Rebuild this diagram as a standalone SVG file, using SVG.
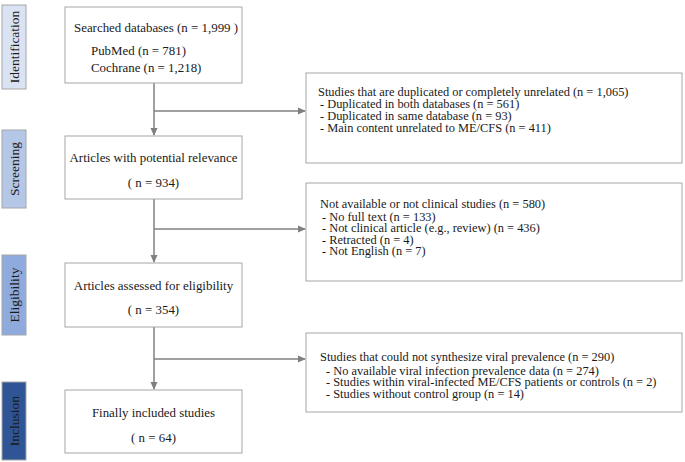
<svg xmlns="http://www.w3.org/2000/svg" width="685" height="462" viewBox="0 0 685 462">
<defs>
<style>
text{font-family:"Liberation Serif","Times New Roman",serif;fill:#1a1a1a}
.box{fill:#fff;stroke:#a6a6a6;stroke-width:1}
.t{font-size:12.9px}
.s{font-size:12.4px}
.c{text-anchor:middle}
.lab{font-size:13.5px;text-anchor:middle}
.ln{fill:none;stroke:#808080;stroke-width:1.5}
</style>
<marker id="ah" markerWidth="8" markerHeight="8" refX="7" refY="4" orient="auto" markerUnits="userSpaceOnUse">
<path d="M0,0.5 L8,4 L0,7.5 Z" fill="#808080"/>
</marker>
</defs>
<rect width="685" height="462" fill="#fff"/>

<g id="lab-identification"><rect x="2" y="5" width="24" height="84" fill="#dae3f3" stroke="#a6a6a6"/><text class="lab" transform="translate(18.5,47) rotate(-90)">Identification</text></g>
<g id="lab-screening"><rect x="2" y="130" width="24" height="78" fill="#b4c7e7" stroke="#a6a6a6"/><text class="lab" transform="translate(18.5,169) rotate(-90)">Screening</text></g>
<g id="lab-eligibility"><rect x="2" y="255" width="24" height="80" fill="#8faadc" stroke="#a6a6a6"/><text class="lab" transform="translate(18.5,295) rotate(-90)">Eligibility</text></g>
<g id="lab-inclusion"><rect x="2" y="382" width="24" height="78" fill="#2f5597" stroke="#a6a6a6"/><text class="lab" transform="translate(18.5,421) rotate(-90)">Inclusion</text></g>

<g id="connectors">
<line class="ln" x1="154" y1="83" x2="154" y2="135" marker-end="url(#ah)"/>
<line class="ln" x1="154" y1="111" x2="305" y2="111" marker-end="url(#ah)"/>
<line class="ln" x1="154" y1="199" x2="154" y2="262" marker-end="url(#ah)"/>
<line class="ln" x1="154" y1="229" x2="305" y2="229" marker-end="url(#ah)"/>
<line class="ln" x1="154" y1="327" x2="154" y2="389" marker-end="url(#ah)"/>
<line class="ln" x1="154" y1="359" x2="305" y2="359" marker-end="url(#ah)"/>
</g>

<g id="searched">
<rect class="box" x="65" y="7" width="177" height="76"/>
<text class="t" x="74" y="32">Searched databases (n = 1,999 )</text>
<text class="t" x="91" y="55">PubMed (n = 781)</text>
<text class="t" x="91" y="72">Cochrane (n = 1,218)</text>
</g>

<g id="potential">
<rect class="box" x="65" y="136" width="177" height="63"/>
<text class="t c" x="153.5" y="162">Articles with potential relevance</text>
<text class="t c" x="153.5" y="187">( n = 934)</text>
</g>

<g id="assessed">
<rect class="box" x="65" y="263" width="177" height="64"/>
<text class="t c" x="153.5" y="290">Articles assessed for eligibility</text>
<text class="t c" x="153.5" y="314">( n = 354)</text>
</g>

<g id="included">
<rect class="box" x="65" y="390" width="177" height="63"/>
<text class="t c" x="153.5" y="417">Finally included studies</text>
<text class="t c" x="153.5" y="442">( n = 64)</text>
</g>

<g id="excl1">
<rect class="box" x="306" y="73" width="376" height="90"/>
<text class="s" x="318" y="96">Studies that are duplicated or completely unrelated (n = 1,065)</text>
<text class="s" x="320" y="108">- Duplicated in both databases  (n = 561)</text>
<text class="s" x="320" y="120">- Duplicated in same database (n = 93)</text>
<text class="s" x="320" y="132">- Main content unrelated to ME/CFS (n = 411)</text>
</g>

<g id="excl2">
<rect class="box" x="306" y="183" width="376" height="98"/>
<text class="s" x="320" y="208">Not available or not clinical studies (n = 580)</text>
<text class="s" x="322" y="221">- No full text (n = 133)</text>
<text class="s" x="322" y="232">- Not clinical article (e.g., review) (n = 436)</text>
<text class="s" x="322" y="244">- Retracted (n = 4)</text>
<text class="s" x="322" y="255">- Not English (n = 7)</text>
</g>

<g id="excl3">
<rect class="box" x="306" y="333" width="376" height="79"/>
<text class="s" x="320" y="361">Studies that could not synthesize viral prevalence (n = 290)</text>
<text class="s" x="326" y="375">- No available viral infection prevalence data (n = 274)</text>
<text class="s" x="326" y="386">- Studies within viral-infected ME/CFS patients or controls (n = 2)</text>
<text class="s" x="326" y="398">- Studies without control group (n = 14)</text>
</g>
</svg>
